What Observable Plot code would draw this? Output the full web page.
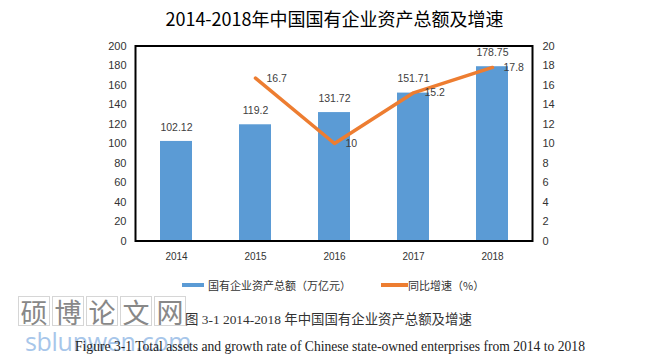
<!DOCTYPE html>
<html><head><meta charset="utf-8">
<script src="https://cdn.jsdelivr.net/npm/d3@7"></script>
<script src="https://cdn.jsdelivr.net/npm/@observablehq/plot@0.6"></script>
<style>
body{margin:0;background:#fff;}
#wrap{position:relative;width:669px;height:361px;overflow:hidden;background:#fff;}
#title{position:absolute;left:0;top:5px;width:669px;text-align:center;font:400 18px "Noto Sans CJK SC",sans-serif;line-height:26px;color:#000;}
#chart{position:absolute;left:0;top:36px;}
.lg{position:absolute;top:277px;font:11px "Noto Sans CJK SC",sans-serif;line-height:16px;color:#333;white-space:nowrap;}
.sw{position:absolute;height:4px;top:283px;}
#wm{position:absolute;left:18px;top:296px;display:flex;}
#wm span{display:block;width:32px;height:30px;margin-right:2px;border:1px solid #d6d6d6;font:27px "Noto Sans CJK SC",sans-serif;line-height:30px;text-align:center;color:#888;box-sizing:border-box;}
#wm2{position:absolute;left:25px;top:326px;font:25px "Open Sans",sans-serif;color:#a7c6ea;line-height:30px;letter-spacing:-0.3px;}
#cap1{position:absolute;left:185px;top:311px;font:13.4px "Liberation Serif","Noto Sans CJK SC",serif;line-height:18px;color:#333;white-space:nowrap;}
#cap2{position:absolute;left:75px;top:338px;font:13.6px "Liberation Serif",serif;line-height:18px;color:#222;white-space:nowrap;}
</style></head><body>
<div id="wrap">
  <div id="title">2014-2018年中国国有企业资产总额及增速</div>
  <div id="chart"></div>
  <div class="sw" style="left:182px;width:22px;background:#5B9BD5"></div>
  <div class="lg" style="left:208px">国有企业资产总额（万亿元）</div>
  <div class="sw" style="left:381px;width:27px;background:#ED7D31"></div>
  <div class="lg" style="left:408px">同比增速（%）</div>
  <div id="wm"><span>硕</span><span>博</span><span>论</span><span>文</span><span>网</span></div>
  <div id="wm2">sblunwen.com</div>
  <div id="cap1">图 3-1 2014-2018 年中国国有企业资产总额及增速</div>
  <div id="cap2">Figure 3-1 Total assets and growth rate of Chinese state-owned enterprises from 2014 to 2018</div>
</div>
<script>
const years = ["2014", "2015", "2016", "2017", "2018"];
const assets = [102.12, 119.2, 131.72, 151.71, 178.75];
const growth = [null, 16.7, 10, 15.2, 17.8];
const leftTicks = [0, 20, 40, 60, 80, 100, 120, 140, 160, 180, 200];
const rightTicks = [0, 2, 4, 6, 8, 10, 12, 14, 16, 18, 20];

const rows = years.map((y, i) => ({year: y, assets: assets[i], growth: growth[i]}));
const lineRows = rows.filter(d => d.growth != null);
const ratio = 200 / 20;

const chart = Plot.plot({
  width: 669,
  height: 234,
  marginTop: 9.5,
  marginBottom: 29.5,
  marginLeft: 135,
  marginRight: 137,
  style: {fontFamily: "Liberation Sans, Arial, sans-serif", color: "#333", background: "#fff"},
  x: {domain: years, paddingInner: 0.6, paddingOuter: 0.3, axis: null},
  y: {domain: [0, 200], axis: null},
  marks: [
    Plot.barY(rows, {x: "year", y: "assets", fill: "#5B9BD5"}),
    Plot.text(rows, {x: "year", y: "assets", text: d => String(d.assets), dy: -14, fill: "#404040", fontSize: 10.5}),
    Plot.lineY(lineRows, {x: "year", y: d => d.growth * ratio, stroke: "#ED7D31", strokeWidth: 3.5, strokeLinecap: "round", strokeLinejoin: "round"}),
    Plot.text(lineRows, {x: "year", y: d => d.growth * ratio, text: d => String(d.growth), textAnchor: "start", dx: 11, fill: "#404040", fontSize: 10.5}),
    Plot.frame({stroke: "#000", strokeWidth: 2}),
    Plot.axisY(leftTicks, {anchor: "left", tickSize: 0, tickPadding: 9, fontSize: 11, fill: "#333", label: null}),
    Plot.axisY(rightTicks.map(d => d * ratio), {anchor: "right", tickSize: 0, tickPadding: 10, fontSize: 11, fill: "#333", label: null, tickFormat: d => String(d / ratio)}),
    Plot.axisX(years, {anchor: "bottom", tickSize: 0, tickPadding: 12, fontSize: 10, fill: "#333", label: null})
  ]
});
document.getElementById("chart").appendChild(chart);
</script>
</body></html>
